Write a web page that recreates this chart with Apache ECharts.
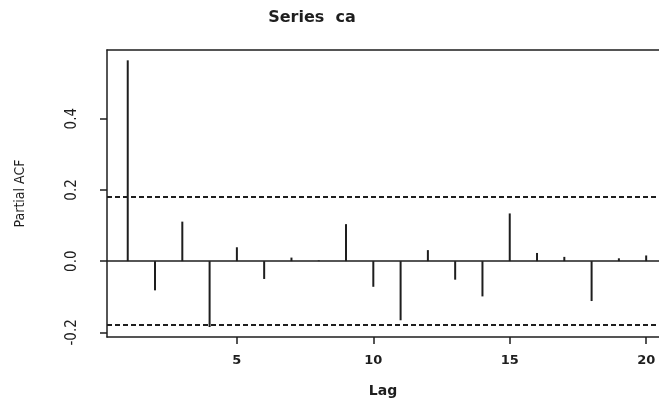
<!DOCTYPE html>
<html>
<head>
<meta charset="utf-8">
<script src="https://cdn.jsdelivr.net/npm/echarts@6/dist/echarts.min.js"></script>
<style>
  html, body { margin: 0; padding: 0; background: #fff; }
  #chart { width: 659px; height: 401px; }
</style>
</head>
<body>
<div id="chart"></div>
<script>
// partial autocorrelations, lag 1..20
var lags = [1, 2, 3, 4, 5, 6, 7, 8, 9, 10, 11, 12, 13, 14, 15, 16, 17, 18, 19, 20];
var pacf = [0.564, -0.082, 0.111, -0.185, 0.039, -0.050, 0.010, 0.002, 0.104, -0.072,
            -0.166, 0.031, -0.052, -0.099, 0.134, 0.023, 0.012, -0.112, 0.008, 0.016];
var ciLimit = 0.176;
var xTicks = [5, 10, 15, 20];
var yTicks = [-0.2, 0.0, 0.2, 0.4];

var ink = '#1e1e1e';
var narrow = '"DejaVu Sans Condensed", "Liberation Sans Narrow", "Liberation Sans", sans-serif';
var myChart = echarts.init(document.getElementById('chart'));

var stems = lags.map(function (l, i) { return [l, pacf[i]]; });

// the original plot box runs past the right edge of the picture
var xMin = 0.24, xMax = 20.47;

var option = {
    animation: false,
    title: {
        text: 'Series  ca',
        left: 307,
        top: 5,
        textAlign: 'center',
        textStyle: { fontFamily: 'DejaVu Sans', fontWeight: 'bold', fontSize: 16, color: ink }
    },
    grid: {
        left: 107,
        top: 50,
        right: 0,
        bottom: 64,
        outerBoundsMode: 'none'
    },
    xAxis: [{
        type: 'value',
        min: xMin,
        max: xMax,
        name: 'Lag',
        nameLocation: 'middle',
        nameGap: 47,
        nameTextStyle: { fontFamily: 'DejaVu Sans', fontWeight: 'bold', fontSize: 14, color: ink },
        splitLine: { show: false },
        axisLine: { show: true, onZero: false, lineStyle: { color: ink, width: 1.5 } },
        axisTick: { show: true, length: 7, customValues: xTicks, lineStyle: { color: ink, width: 1.5 } },
        axisLabel: {
            customValues: xTicks,
            margin: 17,
            fontFamily: 'DejaVu Sans', fontWeight: 'bold', fontSize: 13, color: ink
        }
    }, {
        type: 'value',
        position: 'top',
        min: xMin,
        max: xMax,
        splitLine: { show: false },
        axisLine: { show: true, onZero: false, lineStyle: { color: ink, width: 1.5 } },
        axisTick: { show: false },
        axisLabel: { show: false }
    }],
    yAxis: {
        type: 'value',
        min: -0.213,
        max: 0.593,
        name: 'Partial ACF',
        nameLocation: 'middle',
        nameGap: 80,
        nameRotate: 90,
        nameTextStyle: { fontFamily: narrow, fontSize: 14, color: ink },
        splitLine: { show: false },
        axisLine: { show: true, onZero: false, lineStyle: { color: ink, width: 1.5 } },
        axisTick: { show: true, length: 7, customValues: yTicks, lineStyle: { color: ink, width: 1.5 } },
        axisLabel: {
            customValues: yTicks,
            rotate: 90,
            margin: 27,
            formatter: function (v) { return v.toFixed(1); },
            fontFamily: narrow, fontSize: 15, color: ink
        }
    },
    series: [{
        type: 'custom',
        xAxisIndex: 0,
        data: stems,
        renderItem: function (params, api) {
            var p0 = api.coord([api.value(0), 0]);
            var p1 = api.coord([api.value(0), api.value(1)]);
            return {
                type: 'line',
                shape: { x1: p0[0], y1: p0[1], x2: p1[0], y2: p1[1] },
                style: { stroke: ink, lineWidth: 2 }
            };
        },
        markLine: {
            silent: true,
            symbol: 'none',
            label: { show: false },
            data: [
                { yAxis: 0, lineStyle: { type: 'solid', color: ink, width: 1.5 } },
                { yAxis: ciLimit, lineStyle: { type: [5, 3], color: ink, width: 2 } },
                { yAxis: -ciLimit, lineStyle: { type: [5, 3], color: ink, width: 2 } }
            ]
        }
    }]
};

myChart.setOption(option);
window.addEventListener('resize', () => {
    myChart.resize();
});
</script>
</body>
</html>
